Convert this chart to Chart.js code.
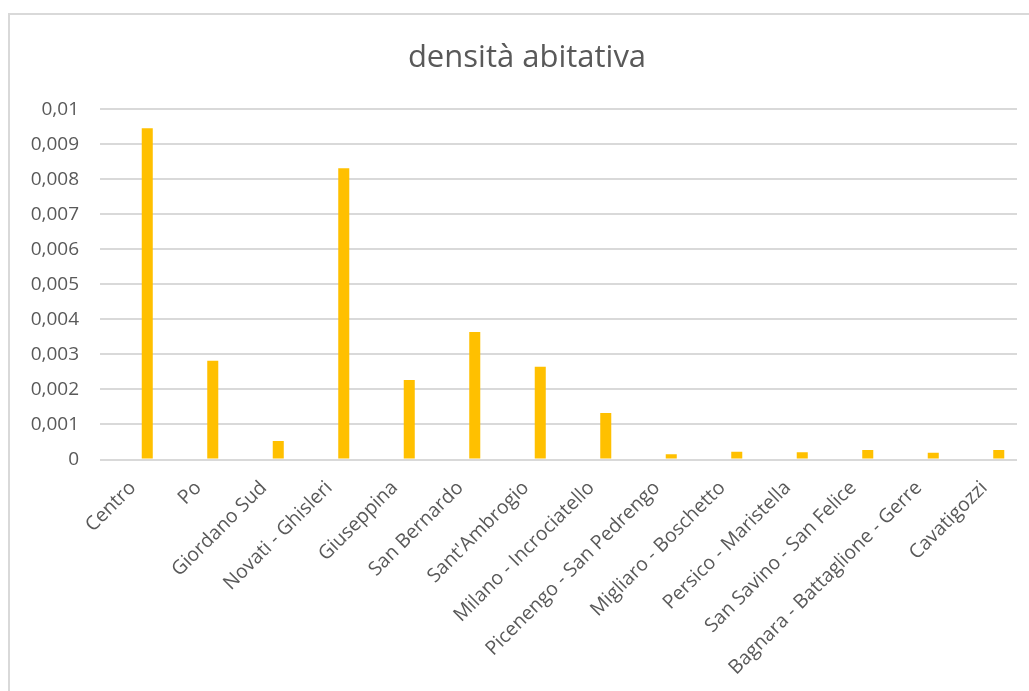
<!DOCTYPE html>
<html lang="it">
<head>
<meta charset="utf-8">
<title>densità abitativa</title>
<script src="https://cdn.jsdelivr.net/npm/chart.js@4.4.1/dist/chart.umd.min.js"></script>
<style>
    html, body { margin: 0; padding: 0; background: #fff; overflow: hidden; }
    #frame {
        position: absolute; left: 8px; top: 13px;
        width: 1100px; height: 800px;
        border: 2px solid #d9d9d9;
    }
    #wrap { position: absolute; left: 0; top: 0; width: 1029px; height: 691px; }
</style>
</head>
<body>
<div id="frame"></div>
<div id="wrap"><canvas id="densityChart"></canvas></div>
<script>
// ===== Dati =====

var quartieri = [
    'Centro', 'Po', 'Giordano Sud', 'Novati - Ghisleri', 'Giuseppina',
    'San Bernardo', "Sant'Ambrogio", 'Milano - Incrociatello',
    'Picenengo - San Pedrengo', 'Migliaro - Boschetto', 'Persico - Maristella',
    'San Savino - San Felice', 'Bagnara - Battaglione - Gerre', 'Cavatigozzi'
];

var densita = [
    0.00946, 0.00282, 0.00053, 0.00832, 0.00227,
    0.00364, 0.00265, 0.00133,
    0.00015, 0.00022, 0.00021,
    0.00027, 0.00019, 0.00027
];

// serie vuota presente nel foglio originale (sposta le colonne a destra)
var serieVuota = [null, null, null, null, null, null, null, null, null, null, null, null, null, null];

var yMin = 0;
var yMax = 0.01;
var yStep = 0.001;

// ===== Grafico =====

var grey = '#595959';
var gridGrey = '#d9d9d9';
var font = '"Open Sans", "DejaVu Sans", sans-serif';

function formatComma(v) {
    return Number(v.toFixed(4)).toString().replace('.', ',');
}

// il titolo in Excel e' centrato sull'area del riquadro, non sull'intera tela
var titleShift = {
    id: 'titleShift',
    afterLayout: function(chart) {
        if (chart.titleBlock) chart.titleBlock.left = 37;
    }
};

new Chart(document.getElementById('densityChart'), {
    type: 'bar',
    data: {
        labels: quartieri,
        datasets: [{
            label: '',
            data: serieVuota,
            backgroundColor: '#ffc000'
        }, {
            label: 'densità abitativa',
            data: densita,
            backgroundColor: '#ffc000',
            borderWidth: 0
        }]
    },
    options: {
        responsive: true,
        maintainAspectRatio: false,
        animation: false,
        datasets: {
            bar: { categoryPercentage: 0.886, barPercentage: 0.38 }
        },
        layout: { padding: { left: 12, right: 12, top: 0, bottom: 0 } },
        plugins: {
            legend: { display: false },
            tooltip: { enabled: false },
            title: {
                display: true,
                text: 'densità abitativa',
                color: grey,
                font: { family: font, size: 31, weight: 'normal' },
                padding: { top: 39.4, bottom: 32.7 }
            }
        },
        scales: {
            x: {
                grid: { display: false, drawTicks: false },
                border: { display: false },
                ticks: {
                    color: grey,
                    font: { family: font, size: 19.5 },
                    minRotation: 45,
                    maxRotation: 45,
                    autoSkip: false,
                    padding: 17
                },
                afterFit: function(scale) { scale.height = 231.5; }
            },
            y: {
                min: yMin,
                max: yMax,
                grid: { color: gridGrey, lineWidth: 2, drawTicks: false },
                border: { display: false },
                ticks: {
                    stepSize: yStep,
                    color: grey,
                    font: { family: font, size: 19 },
                    padding: 21,
                    callback: function(v) { return formatComma(v); }
                },
                afterFit: function(scale) { scale.width = 88; }
            }
        }
    },
    plugins: [titleShift]
});
</script>
</body>
</html>
